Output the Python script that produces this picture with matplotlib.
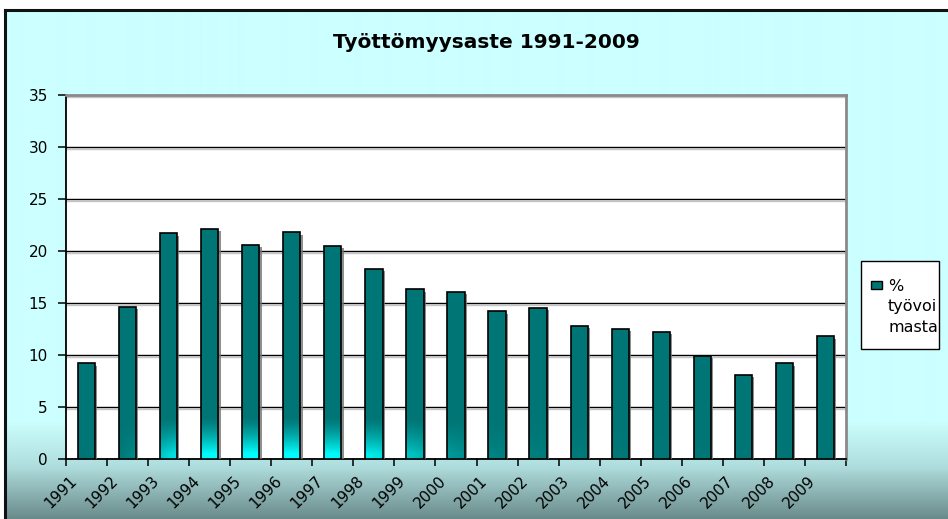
import numpy as np
import matplotlib
matplotlib.use('Agg')
import matplotlib.pyplot as plt
import matplotlib.patheffects as pe
from matplotlib.path import Path
from matplotlib.transforms import ScaledTranslation
from matplotlib.patches import Rectangle

# ---- data ----
years = [str(y) for y in range(1991, 2010)]
rates = [9.2, 14.6, 21.7, 22.1, 20.6, 21.8, 20.5, 18.3, 16.3, 16.1,
         14.2, 14.5, 12.8, 12.5, 12.2, 9.9, 8.1, 9.2, 11.8]
yticks = [0, 5, 10, 15, 20, 25, 30, 35]
title = 'Työttömyysaste 1991-2009'
series_label = '%\ntyövoi\nmasta'

plt.rcParams['font.family'] = ['DejaVu Sans']

W, H = 948, 519
fig = plt.figure(figsize=(W / 100, H / 100), dpi=100)
fig.patch.set_facecolor('white')


def fx(px):
    return px / W


def fy(py):
    return 1 - py / H


teal = (0.0, 0.46, 0.46)

# ---- chart area background with gradient ----
bg = fig.add_axes([fx(5), 0, 1 - fx(5), fy(10)])
bg.set_zorder(0)
rows = np.arange(10, H)
c_top = np.array([204, 255, 255]) / 255
c_mid = np.array([176, 222, 222]) / 255
c_bot = np.array([105, 137, 137]) / 255
grad = np.zeros((len(rows), 1, 3))
for i, r in enumerate(rows):
    if r <= 420:
        c = c_top
    elif r <= 465:
        t = (r - 420) / 45
        c = c_top * (1 - t) + c_mid * t
    else:
        t = (r - 465) / (H - 465)
        c = c_mid * (1 - t) + c_bot * t
    grad[i, 0] = c
bg.imshow(grad, aspect='auto', extent=[0, 1, 0, 1], origin='upper',
          interpolation='bilinear')
bg.set_xlim(0, 1)
bg.set_ylim(0, 1)
bg.set_xticks([])
bg.set_yticks([])
for s in ['right', 'bottom']:
    bg.spines[s].set_visible(False)
for s in ['left', 'top']:
    bg.spines[s].set_color('#111111')
    bg.spines[s].set_linewidth(2.2)

# ---- plot area ----
ax = fig.add_axes([fx(66), fy(459), fx(846) - fx(66), fy(95) - fy(459)])
ax.set_zorder(1)
ax.set_facecolor('white')
x = np.arange(len(years))
bw = 0.42

bars = ax.bar(x, rates, width=bw, color=teal, edgecolor='none', zorder=3)
for b in bars:
    b.set_path_effects([pe.SimplePatchShadow(offset=(1.6, -1.6),
                                             shadow_rgbFace=(0.45, 0.45, 0.45),
                                             alpha=0.8), pe.Normal()])

# cyan glow at the foot of the bars
nx, ny = 760, 300
xs = np.linspace(-0.5, len(years) - 0.5, nx)
ys = np.linspace(0, 5, ny)
XX, YY = np.meshgrid(xs, ys)
xc = 4.5
left = np.exp(-((XX - xc) / 3.0) ** 6)
right = 0.8 * np.exp(-((XX - xc) / 3.8) ** 4) + 0.2 * np.exp(-((XX - xc) / 6.0) ** 2)
fxw = np.where(XX < xc, left, right)
t = np.clip((4.1 - YY) / (4.1 - 0.5), 0, 1)
fv = t ** 1.4
alpha = np.clip(fxw * fv, 0, 1)
img = np.zeros((ny, nx, 4))
img[..., 0] = 0.0
img[..., 1] = 1.0
img[..., 2] = 1.0
img[..., 3] = alpha
im = ax.imshow(img, extent=[-0.5, len(years) - 0.5, 0, 5], origin='lower',
               aspect='auto', interpolation='bilinear', zorder=3.5)
clip = Path.make_compound_path(*[b.get_path().transformed(b.get_patch_transform())
                                 for b in bars])
im.set_clip_path(clip, ax.transData)

ax.bar(x, rates, width=bw, fill=False, edgecolor='black', linewidth=1.2, zorder=4)

ax.set_xlim(-0.5, len(years) - 0.5)
ax.set_ylim(0, 35)
ax.set_yticks(yticks)
ax.set_yticklabels([str(v) for v in yticks])
ax.yaxis.grid(True, color='black', linewidth=1.0)
ax.set_axisbelow(True)
for gl in ax.get_ygridlines():
    gl.set_path_effects([pe.SimpleLineShadow(offset=(0, -1.2), shadow_color='gray',
                                             alpha=0.45), pe.Normal()])

for s in ['left', 'bottom']:
    ax.spines[s].set_color('black')
    ax.spines[s].set_linewidth(1.3)
for s in ['top', 'right']:
    ax.spines[s].set_color('#8a8a8a')
    ax.spines[s].set_linewidth(2.0)

ax.tick_params(axis='y', direction='out', length=6, width=1.1, pad=7,
               labelsize=11, colors='black')
ax.set_xticks(x)
ax.set_xticklabels(years, rotation=45, ha='right', va='center',
                   rotation_mode='anchor', fontsize=11)
ax.tick_params(axis='x', which='major', length=0, pad=14)
ax.set_xticks(np.arange(len(years) + 1) - 0.5, minor=True)
ax.tick_params(axis='x', which='minor', direction='out', length=5, width=1.1)
off = ScaledTranslation(-0.12, 0, fig.dpi_scale_trans)
for lbl in ax.get_xticklabels():
    lbl.set_transform(lbl.get_transform() + off)

# ---- title ----
fig.text(fx(486), fy(42), title, ha='center', va='center',
         fontsize=14.5, fontweight='bold', zorder=5)

# ---- legend ----
fig.add_artist(Rectangle((fx(861), fy(349)), fx(939) - fx(861), fy(261) - fy(349),
                         transform=fig.transFigure, facecolor='white',
                         edgecolor='black', linewidth=1.0, zorder=5))
fig.add_artist(Rectangle((fx(871), fy(289)), fx(882) - fx(871), fy(281) - fy(289),
                         transform=fig.transFigure, facecolor=teal,
                         edgecolor='black', linewidth=1.0, zorder=6))
fig.text(fx(888), fy(279), series_label, ha='left', va='top', fontsize=11.5,
         linespacing=1.45, zorder=6)

fig.savefig('out.png', dpi=100)
